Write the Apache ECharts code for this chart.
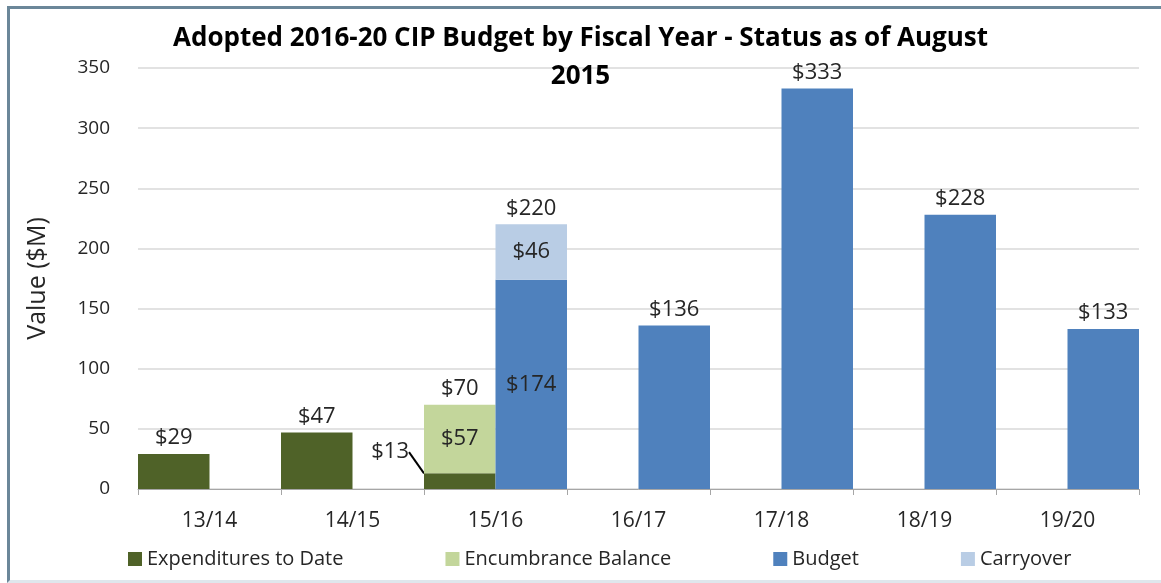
<!DOCTYPE html>
<html>
<head>
<meta charset="utf-8">
<script src="https://cdn.jsdelivr.net/npm/echarts@6/dist/echarts.min.js"></script>
<style>
html, body { margin: 0; padding: 0; background: #fff; }
#wrap { position: relative; width: 1161px; height: 583px; overflow: hidden; }
#chart { width: 1161px; height: 583px; }
#frame {
    position: absolute; left: 7px; top: 6px; width: 1200px; height: 571px;
    border-top: 3px solid #6b8799; border-left: 3px solid #6b8799;
    border-bottom: 3px solid #dfe6ec; pointer-events: none;
}
</style>
</head>
<body>
<div id="wrap">
    <div id="chart"></div>
    <div id="frame"></div>
</div>
<script>
// 数据
var years = ['13/14', '14/15', '15/16', '16/17', '17/18', '18/19', '19/20'];
var spent = [29, 47, 13, null, null, null, null];          // Expenditures to Date
var encumb = [null, null, 57, null, null, null, null];     // Encumbrance Balance
var budget = [null, null, 174, 136, 333, 228, 133];        // Budget
var carry = [null, null, 46, null, null, null, null];      // Carryover
var spentTotal = [null, null, 70, null, null, null, null];
var planTotal = [null, null, 220, null, null, null, null];

var FONT = '"Open Sans", "Noto Sans", sans-serif';
var labelText = { fontFamily: FONT, fontSize: 22, color: '#262626' };

function money(v) { return '$' + v; }

var chart = echarts.init(document.getElementById('chart'));

// 下层柱子：上面没有东西就放顶部，否则放内部
function lowerData(vals, upper) {
    return vals.map(function (v, i) {
        if (v == null) return null;
        if (upper[i] == null) return { value: v, label: { position: 'top' } };
        return { value: v, label: { position: 'inside' } };
    });
}

function zeroData(totals) {
    return totals.map(function (v) { return v == null ? null : 0; });
}

var option = {
    animation: false,
    backgroundColor: '#fff',
    title: {
        text: 'Adopted 2016-20 CIP Budget by Fiscal Year - Status as of August\n2015',
        left: 'center',
        top: 15,
        textStyle: {
            fontFamily: FONT, fontSize: 26, fontWeight: 'bold', color: '#000',
            lineHeight: 38
        }
    },
    grid: { left: 138, right: 22, top: 68, bottom: 94 },
    legend: {
        data: ['Expenditures to Date', 'Encumbrance Balance', 'Budget', 'Carryover'],
        left: 123,
        top: 544,
        itemGap: 102,
        itemWidth: 14,
        itemHeight: 14,
        icon: 'rect',
        textStyle: { fontFamily: FONT, fontSize: 20, color: '#262626' }
    },
    color: ['#4f6228', '#c3d69b', '#4f81bd', '#b9cde5'],
    xAxis: {
        type: 'category',
        data: years,
        axisLine: { lineStyle: { color: '#a6a6a6' } },
        axisTick: { show: true, length: 6, lineStyle: { color: '#a6a6a6' } },
        axisLabel: { fontFamily: FONT, fontSize: 21, color: '#262626', margin: 22 }
    },
    yAxis: {
        type: 'value',
        min: 0,
        max: 350,
        interval: 50,
        name: 'Value ($M)',
        nameLocation: 'middle',
        nameGap: 88,
        nameTextStyle: { fontFamily: FONT, fontSize: 25, color: '#262626' },
        axisLine: { show: false },
        axisTick: { show: false },
        axisLabel: { fontFamily: FONT, fontSize: 19, color: '#262626', margin: 28 },
        splitLine: { lineStyle: { color: '#d9d9d9', width: 1.5 } }
    },
    series: [
        {
            name: 'Expenditures to Date',
            type: 'bar',
            stack: 'spent',
            data: spent.map(function (v, i) {
                if (v == null) return null;
                if (encumb[i] == null) return { value: v, label: { position: 'top' } };
                // 有上层时标签挪到左上方，用引线指回去
                return { value: v, label: { position: 'left' }, labelLine: { show: true } };
            }),
            label: Object.assign({ show: true, formatter: function (p) { return money(p.value); } }, labelText),
            labelLine: { show: false, lineStyle: { color: '#000', width: 2 } },
            labelLayout: function (p) {
                if (encumb[p.dataIndex] != null) return { dx: -10, dy: -29 };
            }
        },
        {
            name: 'Encumbrance Balance',
            type: 'bar',
            stack: 'spent',
            data: encumb,
            label: Object.assign({ show: true, position: 'inside', formatter: function (p) { return money(p.value); } }, labelText)
        },
        {
            name: 'spentTotal',
            type: 'bar',
            stack: 'spent',
            data: zeroData(spentTotal),
            itemStyle: { color: 'rgba(0,0,0,0)' },
            label: Object.assign({ show: true, position: 'top', formatter: function (p) { return money(spentTotal[p.dataIndex]); } }, labelText)
        },
        {
            name: 'Budget',
            type: 'bar',
            stack: 'plan',
            data: lowerData(budget, carry),
            label: Object.assign({ show: true, formatter: function (p) { return money(p.value); } }, labelText)
        },
        {
            name: 'Carryover',
            type: 'bar',
            stack: 'plan',
            data: carry,
            label: Object.assign({ show: true, position: 'inside', formatter: function (p) { return money(p.value); } }, labelText)
        },
        {
            name: 'planTotal',
            type: 'bar',
            stack: 'plan',
            data: zeroData(planTotal),
            barGap: '0%',
            barCategoryGap: '0%',
            itemStyle: { color: 'rgba(0,0,0,0)' },
            label: Object.assign({ show: true, position: 'top', formatter: function (p) { return money(planTotal[p.dataIndex]); } }, labelText)
        }
    ]
};

chart.setOption(option);
</script>
</body>
</html>
